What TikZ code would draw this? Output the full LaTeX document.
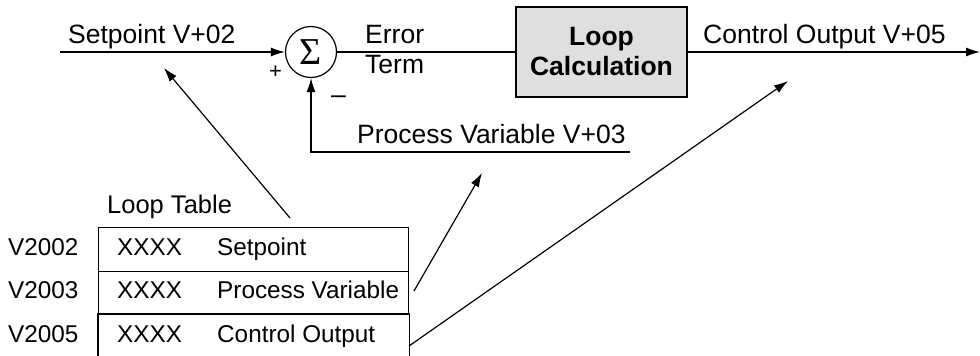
\documentclass[tikz,border=0pt]{standalone}
\usepackage{fontspec}
\setmainfont{Liberation Sans}
\newfontfamily\sigfont{Liberation Serif}
\usetikzlibrary{arrows.meta}
\tikzset{
  lbl/.style={anchor=base west, inner sep=0pt, font=\fontsize{26.5}{30}\selectfont},
  tbl/.style={anchor=base west, inner sep=0pt, font=\fontsize{24.3}{28}\selectfont},
  conn/.style={line width=1.2pt},
  arr/.style={conn, -{Latex[length=14pt,width=9pt]}},
  rowbox/.style={draw, line width=1.2pt, minimum width=310pt, minimum height=43.5pt, inner sep=0pt, anchor=north west},
}
\begin{document}
\begin{tikzpicture}[x=1pt,y=-1pt]
\useasboundingbox (0,0) rectangle (980,356);
% summing junction
\node[draw, circle, line width=1.2pt, minimum size=51pt, inner sep=0pt] (sum) at (311,52) {};
\node[inner sep=0pt, font=\sigfont\fontsize{38}{38}\selectfont] (sig) at (311,52) {Σ};
% loop calculation box
\node[draw, line width=1.2pt, fill=gray!25, minimum width=171pt, minimum height=90pt, align=center,
      font=\fontsize{26.5}{30}\selectfont\bfseries] (calc) at (601.5,52) {Loop\\Calculation};
% coordinates
\coordinate (in) at (60,52);
\coordinate (out) at (980,52);
\coordinate (pvend) at (630,152);
\coordinate (pvcorner) at (311,152);
% main signal path
\draw[arr] (in) -- (sum.west);
\draw[conn] (sum.east) -- (calc.west);
\draw[arr] (calc.east) -- (out);
\draw[arr] (pvend) -- (pvcorner) -- (sum.south);
% labels
\node[lbl] (sp) at (68,43) {Setpoint V+02};
\node[lbl] (err1) at (365,43) {Error};
\node[lbl] (err2) at (365,73) {Term};
\node[lbl] (co) at (703,43) {Control Output V+05};
\node[lbl] (pv) at (357,143) {Process Variable V+03};
\node[lbl, font=\fontsize{22}{26}\selectfont] (plus) at (269,78) {+};
\node[lbl] (minus) at (331,103) {–};
% loop table
\node[tbl, font=\fontsize{25.5}{28}\selectfont] (lt) at (107,213) {Loop Table};
\node[rowbox] (r1) at (98,227) {};
\node[rowbox] (r2) at (98,270.5) {};
\node[rowbox, draw=none, minimum height=42pt] (r3) at (98,314) {};
\draw[line width=1.2pt] (r3.south west) -- (r3.north west) -- (r3.north east) -- (r3.south east);
\node[tbl] (a1) at (8,255) {V2002};
\node[tbl] (a2) at (8,298) {V2003};
\node[tbl] (a3) at (8,342) {V2005};
\node[tbl] (x1) at (117,255) {XXXX};
\node[tbl] (x2) at (117,298) {XXXX};
\node[tbl] (x3) at (117,342) {XXXX};
\node[tbl] (n1) at (217,255) {Setpoint};
\node[tbl] (n2) at (217,298) {Process Variable};
\node[tbl] (n3) at (217,342) {Control Output};
% pointer arrows
\coordinate (s1) at (290,218);
\coordinate (t1) at (164,68);
\coordinate (s2) at (414,291);
\coordinate (t2) at (482,173);
\coordinate (s3) at (409,346);
\coordinate (t3) at (788,81);
\draw[arr] (s1) -- (t1);
\draw[arr] (s2) -- (t2);
\draw[arr] (s3) -- (t3);
\end{tikzpicture}
\end{document}
